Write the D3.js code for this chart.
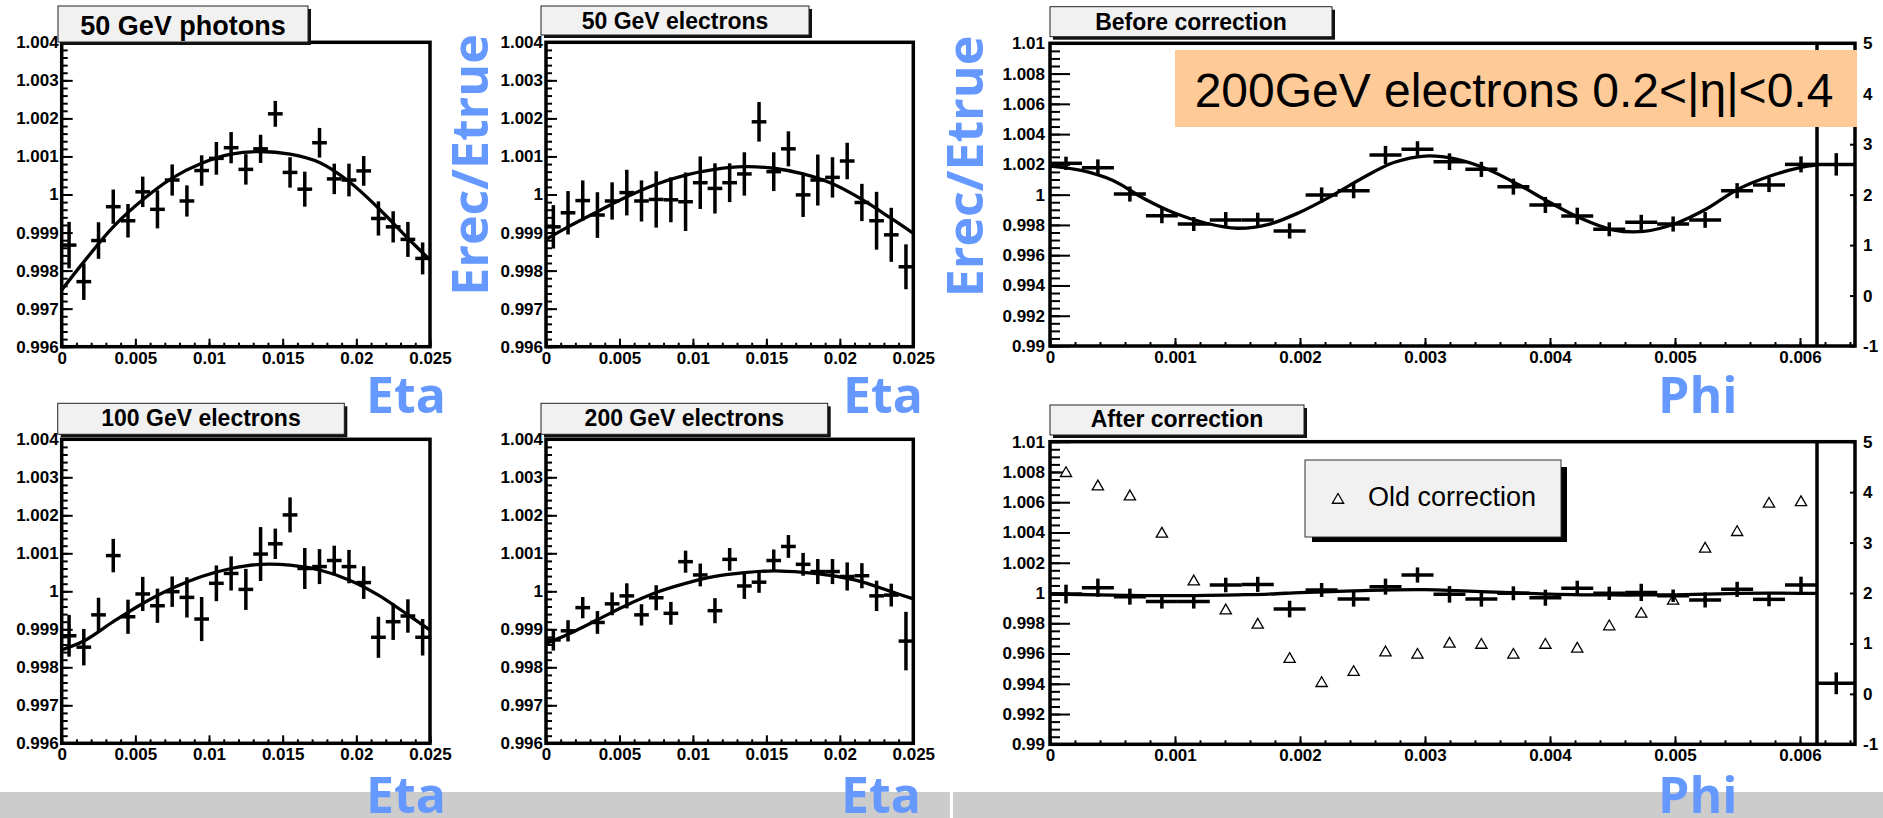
<!DOCTYPE html>
<html>
<head>
<meta charset="utf-8">
<script src="https://cdn.jsdelivr.net/npm/d3@7"></script>
<style>
  html, body { margin: 0; padding: 0; background: #ffffff; }
  svg { display: block; }
</style>
</head>
<body>
<svg id="chart" width="1883" height="818"></svg>
<script>
// ---- Eta scans: bin centres (25 bins of 0.001) ----
const etaBins = [0.0005, 0.0015, 0.0025, 0.0035, 0.0045, 0.0055, 0.0065, 0.0075, 0.0085, 0.0095,
                 0.0105, 0.0115, 0.0125, 0.0135, 0.0145, 0.0155, 0.0165, 0.0175, 0.0185, 0.0195,
                 0.0205, 0.0215, 0.0225, 0.0235, 0.0245];
const etaBinHalf = 0.0005;

const photons50 = [0.99867, 0.99771, 0.99879, 0.99968, 0.99931, 1.00007, 0.99961, 1.00038, 0.99983, 1.00063,
                   1.00095, 1.00123, 1.00066, 1.0012, 1.00212, 1.00058, 1.00014, 1.00136, 1.00041, 1.00038,
                   1.00062, 0.99937, 0.99915, 0.99882, 0.99832];
const photons50Err = [0.00061, 0.00048, 0.00048, 0.00045, 0.00044, 0.0004, 0.0005, 0.00041, 0.00041, 0.0004,
                      0.00043, 0.00041, 0.0004, 0.00037, 0.00034, 0.0004, 0.00046, 0.00039, 0.0004, 0.00043,
                      0.00039, 0.00045, 0.00041, 0.00046, 0.00042];

const electrons50 = [0.99915, 0.99952, 0.99984, 0.99946, 0.99983, 1.00005, 0.99983, 0.99987, 0.99986, 0.99981,
                     1.00031, 1.00016, 1.00031, 1.00054, 1.00191, 1.0006, 1.0012, 0.99999, 1.00038, 1.00045,
                     1.00088, 0.99979, 0.99931, 0.99894, 0.9981];
const electrons50Err = [0.00057, 0.00057, 0.00053, 0.0006, 0.00049, 0.0006, 0.00054, 0.00074, 0.00059, 0.00077,
                        0.00069, 0.00066, 0.00051, 0.00057, 0.00052, 0.00051, 0.00046, 0.00058, 0.00067, 0.00053,
                        0.00048, 0.00049, 0.00076, 0.00071, 0.00059];

const electrons100 = [0.99883, 0.99853, 0.99938, 1.00094, 0.99933, 0.99993, 0.99962, 0.99999, 0.99984, 0.99927,
                      1.00021, 1.00047, 1.00005, 1.00098, 1.00125, 1.00201, 1.0006, 1.00065, 1.00081, 1.00065,
                      1.00023, 0.99879, 0.9992, 0.99935, 0.99879];
const electrons100Err = [0.00055, 0.00048, 0.00045, 0.00044, 0.00045, 0.00045, 0.00045, 0.0004, 0.00053, 0.00058,
                         0.00047, 0.00045, 0.00054, 0.00071, 0.0004, 0.00046, 0.00054, 0.00046, 0.00039, 0.00044,
                         0.00043, 0.00054, 0.00048, 0.00044, 0.00048];

const electrons200 = [0.99872, 0.99896, 0.99957, 0.99918, 0.99967, 0.99988, 0.99938, 0.99983, 0.99942, 1.00078,
                      1.00043, 0.99949, 1.00084, 1.00014, 1.00024, 1.00081, 1.00118, 1.00071, 1.00052, 1.00052,
                      1.00039, 1.00041, 0.99988, 0.9999, 0.99869];
const electrons200Err = [0.00028, 0.00028, 0.00028, 0.0003, 0.0003, 0.00033, 0.00028, 0.00033, 0.0003, 0.00029,
                         0.0003, 0.00033, 0.0003, 0.00034, 0.00028, 0.00029, 0.0003, 0.0003, 0.00033, 0.00033,
                         0.00037, 0.00033, 0.0004, 0.0003, 0.00077];

// Fitted curves along eta (knots of the fit function)
const etaFitX = [0, 0.0015, 0.0035, 0.0055, 0.0075, 0.0095, 0.0115, 0.0135, 0.0155, 0.0175, 0.0195, 0.0215, 0.0235, 0.025];
const fitPhotons50 = [0.99749, 0.99823, 0.99915, 0.99986, 1.00043, 1.00082, 1.00106, 1.00113, 1.00106, 1.00084, 1.00034, 0.99964, 0.99885, 0.99828];
const fitElectrons50 = [0.99882, 0.99915, 0.99955, 0.99994, 1.00027, 1.00051, 1.00066, 1.00073, 1.00069, 1.00054, 1.00028, 0.99987, 0.99937, 0.99898];
const fitElectrons100 = [0.99846, 0.99869, 0.9992, 0.99968, 1.00008, 1.00039, 1.0006, 1.00071, 1.00069, 1.00056, 1.0003, 0.9999, 0.99938, 0.99898];
const fitElectrons200 = [0.99863, 0.99887, 0.99925, 0.99964, 0.99997, 1.00021, 1.00039, 1.00049, 1.00054, 1.0005, 1.00041, 1.00025, 0.99999, 0.9998];

// ---- Phi scans: 24 cells of 2pi/1024/24 plus the overflow cell ----
const phiBins = [0.000128, 0.000383, 0.000639, 0.000895, 0.00115, 0.001406, 0.001662, 0.001917, 0.002173, 0.002429,
                 0.002684, 0.00294, 0.003196, 0.003451, 0.003707, 0.003963, 0.004218, 0.004474, 0.00473, 0.004985,
                 0.005241, 0.005497, 0.005752, 0.006008, 0.00629];
const phiBinHalf = 0.000128;
const phiOverflowHalf = 0.000152;
const phiCellEdge = 0.006136;

const phiBefore = [1.00207, 1.00178, 1.00004, 0.99861, 0.99806, 0.99833, 0.99833, 0.9976, 0.99998, 1.00026,
                   1.00262, 1.003, 1.00218, 1.00167, 1.00053, 0.99932, 0.99859, 0.99771, 0.99817, 0.99806,
                   0.99833, 1.00026, 1.00064, 1.002, 1.002];
const phiBeforeErr = [0.00044, 0.00055, 0.0005, 0.0005, 0.00046, 0.00052, 0.00048, 0.0005, 0.0005, 0.0005,
                      0.0006, 0.00053, 0.00055, 0.0005, 0.00053, 0.00053, 0.00055, 0.00046, 0.0005, 0.0005,
                      0.00052, 0.0005, 0.00047, 0.00053, 0.00074];

const phiAfter = [0.99993, 1.00035, 0.99976, 0.99943, 0.99943, 1.00053, 1.00057, 0.99894, 1.0002, 0.9996,
                  1.00042, 1.00119, 0.99991, 0.9996, 0.99998, 0.99969, 1.00031, 0.99998, 1.00004, 0.99982,
                  0.99954, 1.00024, 0.99958, 1.00053, 0.99403];
const phiAfterErr = [0.00062, 0.0006, 0.00053, 0.00046, 0.00046, 0.00048, 0.0005, 0.00055, 0.00046, 0.0005,
                     0.00053, 0.0005, 0.00055, 0.0005, 0.00046, 0.00053, 0.0005, 0.00044, 0.00057, 0.00041,
                     0.0005, 0.0005, 0.00046, 0.00055, 0.00072];

const phiOldCorr = [1.00802, 1.00714, 1.00648, 1.00401, 1.00086, 0.99894, 0.998, 0.99573, 0.99414, 0.99487,
                    0.99617, 0.99601, 0.99674, 0.99667, 0.99601, 0.99667, 0.99641, 0.99789, 0.99872, 0.99958,
                    1.00302, 1.00412, 1.00599, 1.0061];

const phiFitX = [0, 0.00025, 0.0005, 0.00075, 0.001, 0.00125, 0.0015, 0.00175, 0.002, 0.00225, 0.0025, 0.00275, 0.003,
                 0.00325, 0.0035, 0.00375, 0.004, 0.00425, 0.0045, 0.00475, 0.005, 0.00525, 0.0055, 0.00575, 0.006, 0.006136];
const fitPhiBefore = [1.00189, 1.0016, 1.00095, 0.99975, 0.99877, 0.99811, 0.99778, 0.99804, 0.99884, 0.9999, 1.0011, 1.00212, 1.00255,
                      1.00235, 1.00168, 1.00065, 0.99948, 0.99842, 0.99768, 0.99757, 0.99808, 0.99905, 1.00034, 1.0012, 1.00178, 1.00196];
const fitPhiAfter = [0.99993, 0.9999, 0.99986, 0.99983, 0.99982, 0.99984, 0.99988, 0.99993, 1.00003, 1.0001, 1.00016, 1.00021, 1.00022,
                     1.00016, 1.00008, 1.0, 0.99992, 0.99988, 0.99987, 0.99987, 0.99988, 0.99992, 0.99997, 0.99999, 0.99998, 0.99998];

// ---- Axis tick labels ----
const etaXTicks = [0, 0.005, 0.01, 0.015, 0.02, 0.025];
const etaYTicks = [0.996, 0.997, 0.998, 0.999, 1, 1.001, 1.002, 1.003, 1.004];
const phiXTicks = [0, 0.001, 0.002, 0.003, 0.004, 0.005, 0.006];
const phiYTicks = [0.99, 0.992, 0.994, 0.996, 0.998, 1, 1.002, 1.004, 1.006, 1.008, 1.01];
const phiRightTicks = [-1, 0, 1, 2, 3, 4, 5];

const svg = d3.select('#chart');
const BLUE = '#6699ff';
const LABEL_FONT = '"Liberation Sans", Arial, sans-serif';
const HAND_FONT = '"Open Sans", "DejaVu Sans", sans-serif';
const fmt = d => String(+d.toFixed(4));
const MARK_W = 3.5;

// grey strip along the bottom of the page
svg.append('rect').attr('x', 0).attr('y', 792).attr('width', 950).attr('height', 26).attr('fill', '#cccccc');
svg.append('rect').attr('x', 953).attr('y', 792).attr('width', 930).attr('height', 26).attr('fill', '#cccccc');

function titleBox(b) {
  svg.append('rect').attr('x', b.x + 3).attr('y', b.y + 3).attr('width', b.w).attr('height', b.h).attr('fill', '#111');
  svg.append('rect').attr('x', b.x).attr('y', b.y).attr('width', b.w).attr('height', b.h)
     .attr('fill', '#f1f1f1').attr('stroke', '#222').attr('stroke-width', 1);
  svg.append('text').attr('x', b.x + b.w / 2).attr('y', b.base).attr('text-anchor', 'middle')
     .attr('font-family', LABEL_FONT).attr('font-weight', 'bold').attr('font-size', b.size)
     .attr('fill', '#000').text(b.text);
}

function drawPanel(p) {
  const [L, T, R, B] = p.frame;
  const isPhi = p.kind === 'phi';
  const x = d3.scaleLinear().domain(isPhi ? [0, 0.00644] : [0, 0.025]).range([L, R]);
  const y = d3.scaleLinear().domain(isPhi ? [0.99, 1.01] : [0.996, 1.004]).range([B, T]);
  const g = svg.append('g');

  const yMajor = isPhi ? 20 : 11, yMinor = isPhi ? 10 : 6;

  // minor ticks
  const gyMin = g.append('g').attr('transform', `translate(${L},0)`)
    .call(d3.axisLeft(y).tickValues(y.ticks(40)).tickSize(-yMinor).tickFormat(''));
  const gxMin = g.append('g').attr('transform', `translate(0,${B})`)
    .call(d3.axisBottom(x).tickValues(x.ticks(isPhi ? 32 : 25)).tickSize(-4).tickFormat(''));
  // major ticks and labels
  const gy = g.append('g').attr('transform', `translate(${L},0)`)
    .call(d3.axisLeft(y).tickValues(isPhi ? phiYTicks : etaYTicks).tickSize(-yMajor)
      .tickPadding(isPhi ? 5 : 3).tickFormat(fmt));
  const gx = g.append('g').attr('transform', `translate(0,${B})`)
    .call(d3.axisBottom(x).tickValues(isPhi ? phiXTicks : etaXTicks).tickSize(-8).tickPadding(5).tickFormat(fmt));
  [gyMin, gxMin, gy, gx].forEach(a => {
    a.select('.domain').remove();
    a.selectAll('line').attr('stroke', '#000').attr('stroke-width', 2);
    a.selectAll('text').attr('font-family', LABEL_FONT).attr('font-weight', 'bold')
      .attr('font-size', 17).attr('fill', '#000');
  });

  if (isPhi) {
    const yr = d3.scaleLinear().domain([-1, 5]).range([B, T]);
    const gr = g.append('g').attr('transform', `translate(${R},0)`)
      .call(d3.axisRight(yr).tickValues(phiRightTicks).tickSize(-5).tickPadding(8).tickFormat(d => String(d)));
    gr.select('.domain').remove();
    gr.selectAll('line').attr('stroke', '#000').attr('stroke-width', 2);
    gr.selectAll('text').attr('font-family', LABEL_FONT).attr('font-weight', 'bold')
      .attr('font-size', 17).attr('fill', '#000');
    // phi cell boundary
    g.append('line').attr('x1', x(phiCellEdge)).attr('x2', x(phiCellEdge)).attr('y1', T).attr('y2', B)
      .attr('stroke', '#000').attr('stroke-width', MARK_W);
  }

  // frame
  g.append('rect').attr('x', L).attr('y', T).attr('width', R - L).attr('height', B - T)
    .attr('fill', 'none').attr('stroke', '#000').attr('stroke-width', MARK_W);

  // fit curve
  const line = d3.line().x(d => x(d[0])).y(d => y(d[1])).curve(d3.curveCatmullRom.alpha(0.5));
  const fitPts = p.fitX.map((v, i) => [v, p.fit[i]]);
  g.append('path').attr('d', line(fitPts)).attr('fill', 'none').attr('stroke', '#000').attr('stroke-width', 3.3);

  // old-correction markers
  if (p.old) {
    const tri = d3.symbol(d3.symbolTriangle, 55);
    g.selectAll('path.old').data(p.old).enter().append('path').attr('class', 'old')
      .attr('d', tri).attr('transform', (d, i) => `translate(${x(p.bins[i])},${y(d) + 1.6})`)
      .attr('fill', '#fff').attr('stroke', '#000').attr('stroke-width', 1.3);
  }

  // data points with error bars
  const pts = p.values.map((v, i) => ({
    x: p.bins[i], v, e: p.errs[i],
    h: isPhi ? (i === p.values.length - 1 ? phiOverflowHalf : phiBinHalf) : etaBinHalf
  }));
  const cross = g.selectAll('g.pt').data(pts).enter().append('g').attr('class', 'pt');
  cross.append('line').attr('x1', d => x(d.x)).attr('x2', d => x(d.x))
    .attr('y1', d => y(d.v - d.e)).attr('y2', d => y(d.v + d.e))
    .attr('stroke', '#000').attr('stroke-width', MARK_W);
  cross.append('line').attr('x1', d => x(d.x - d.h)).attr('x2', d => x(d.x + d.h))
    .attr('y1', d => y(d.v)).attr('y2', d => y(d.v))
    .attr('stroke', '#000').attr('stroke-width', MARK_W);

  titleBox(p.title);

  // axis title
  svg.append('text').attr('x', p.xTitle[0]).attr('y', p.xTitle[1])
    .attr('font-family', HAND_FONT).attr('font-weight', 700).attr('font-size', 50)
    .attr('fill', BLUE).text(isPhi ? 'Phi' : 'Eta');
  return { x, y };
}

drawPanel({ kind: 'eta', frame: [61.7, 42.3, 430, 346.7], bins: etaBins, values: photons50, errs: photons50Err,
  fitX: etaFitX, fit: fitPhotons50, xTitle: [366, 413],
  title: { x: 58, y: 6, w: 250, h: 36, base: 35, size: 27, text: '50 GeV photons' } });
drawPanel({ kind: 'eta', frame: [546, 42.3, 913.3, 346.7], bins: etaBins, values: electrons50, errs: electrons50Err,
  fitX: etaFitX, fit: fitElectrons50, xTitle: [843, 413],
  title: { x: 541, y: 6, w: 268, h: 29, base: 28.5, size: 23, text: '50 GeV electrons' } });
drawPanel({ kind: 'eta', frame: [61.7, 439.3, 430, 743.3], bins: etaBins, values: electrons100, errs: electrons100Err,
  fitX: etaFitX, fit: fitElectrons100, xTitle: [366, 813],
  title: { x: 57.7, y: 403.3, w: 286.6, h: 31, base: 426, size: 23, text: '100 GeV electrons' } });
drawPanel({ kind: 'eta', frame: [546, 439.3, 913.3, 743.3], bins: etaBins, values: electrons200, errs: electrons200Err,
  fitX: etaFitX, fit: fitElectrons200, xTitle: [841, 813],
  title: { x: 541, y: 403.3, w: 286.7, h: 31, base: 426, size: 23, text: '200 GeV electrons' } });
drawPanel({ kind: 'phi', frame: [1050, 43.3, 1855, 346], bins: phiBins, values: phiBefore, errs: phiBeforeErr,
  fitX: phiFitX, fit: fitPhiBefore, xTitle: [1658, 413],
  title: { x: 1050, y: 6.7, w: 282, h: 30, base: 29.5, size: 23, text: 'Before correction' } });
drawPanel({ kind: 'phi', frame: [1050, 441.7, 1855, 744.3], bins: phiBins, values: phiAfter, errs: phiAfterErr,
  fitX: phiFitX, fit: fitPhiAfter, old: phiOldCorr, xTitle: [1658, 813],
  title: { x: 1050, y: 405, w: 254, h: 30, base: 427, size: 23, text: 'After correction' } });

// sample label on the upper phi panel
svg.append('rect').attr('x', 1175).attr('y', 50).attr('width', 682).attr('height', 77).attr('fill', '#fecb98');
svg.append('text').attr('x', 1514).attr('y', 107).attr('text-anchor', 'middle')
  .attr('font-family', LABEL_FONT).attr('font-size', 48).attr('fill', '#000')
  .text('200GeV electrons 0.2<|η|<0.4');

// legend of the lower phi panel
svg.append('rect').attr('x', 1312).attr('y', 467).attr('width', 255).attr('height', 75).attr('fill', '#000');
svg.append('rect').attr('x', 1305).attr('y', 460).attr('width', 256).attr('height', 77)
  .attr('fill', '#f1f1f1').attr('stroke', '#333').attr('stroke-width', 1);
svg.append('path').attr('d', d3.symbol(d3.symbolTriangle, 55)())
  .attr('transform', 'translate(1338,500)').attr('fill', '#fff').attr('stroke', '#000').attr('stroke-width', 1.3);
svg.append('text').attr('x', 1368).attr('y', 506).attr('font-family', LABEL_FONT).attr('font-size', 27)
  .attr('fill', '#000').text('Old correction');

// vertical axis titles
[[488, 165], [983, 166.5]].forEach(([tx, ty]) => {
  svg.append('text').attr('transform', `translate(${tx},${ty}) rotate(-90)`).attr('text-anchor', 'middle')
    .attr('font-family', HAND_FONT).attr('font-weight', 700).attr('font-size', 50)
    .attr('fill', BLUE).text('Erec/Etrue');
});
</script>
</body>
</html>
